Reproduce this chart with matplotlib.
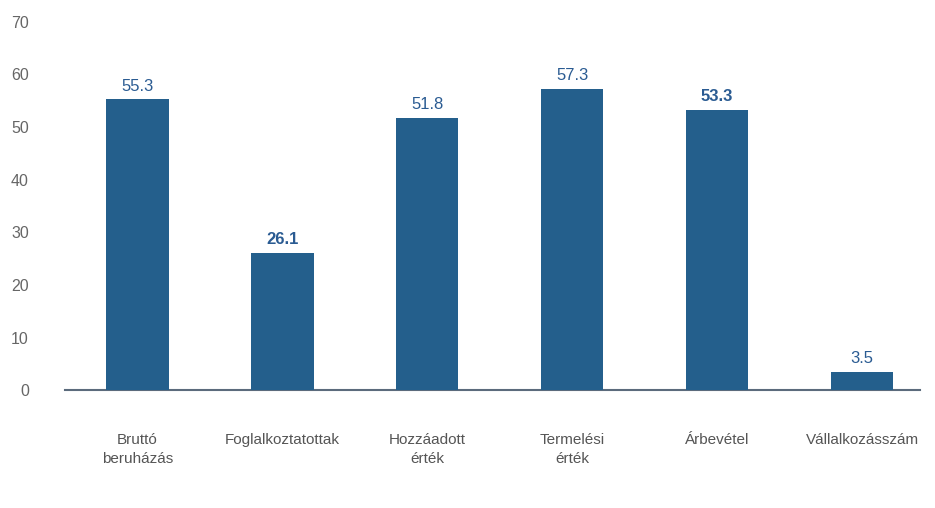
import matplotlib
matplotlib.use('Agg')
import matplotlib.pyplot as plt

categories = ['Bruttó\nberuházás', 'Foglalkoztatottak', 'Hozzáadott\nérték',
              'Termelési\nérték', 'Árbevétel', 'Vállalkozásszám']
values = [55.3, 26.1, 51.8, 57.3, 53.3, 3.5]
value_labels = ['55.3', '26.1', '51.8', '57.3', '53.3', '3.5']
bold_labels = [False, True, False, False, True, False]
y_ticks = [0, 10, 20, 30, 40, 50, 60, 70]

plt.rcParams['font.family'] = ['Liberation Sans', 'DejaVu Sans']

fig = plt.figure(figsize=(9.35, 5.08), dpi=100)
ax = fig.add_axes([0.0695, 0.232, 0.9145, 0.725])

bar_color = '#245f8c'
x = list(range(len(categories)))
bars = ax.bar(x, values, width=0.43, color=bar_color, zorder=3)

# value labels above the bars
for b, lab, bold in zip(bars, value_labels, bold_labels):
    ax.annotate(lab, (b.get_x() + b.get_width() / 2, b.get_height()),
                xytext=(0, 4), textcoords='offset points', ha='center', va='bottom',
                fontsize=12, color='#2a5b92', fontweight='bold' if bold else 'normal')

ax.set_xlim(-0.5, 5.4)
ax.set_ylim(0, 70)
ax.set_yticks(y_ticks)
ax.set_yticklabels([str(t) for t in y_ticks], fontsize=11.5, color='#666666')
ax.set_xticks(x)
ax.set_xticklabels(categories, fontsize=11, color='#555555', linespacing=1.4, va='top')
ax.tick_params(axis='y', length=0, pad=26)
ax.tick_params(axis='x', length=0, pad=31)

for s in ['top', 'right', 'left']:
    ax.spines[s].set_visible(False)
ax.spines['bottom'].set_color('#5b6b7c')
ax.spines['bottom'].set_linewidth(1.5)

fig.savefig('out.png', dpi=100)
